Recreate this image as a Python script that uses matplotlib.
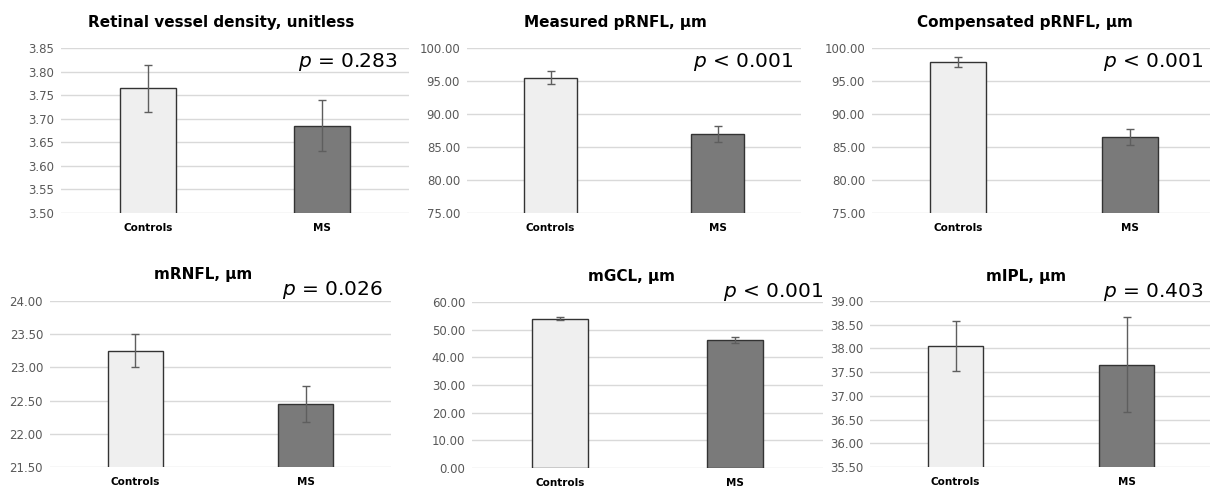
import numpy as np
import matplotlib
matplotlib.use("Agg")
import matplotlib.pyplot as plt

plt.rcParams['font.family'] = ['DejaVu Sans']

# data
groups = ["Controls", "MS"]
titles = ["Retinal vessel density, unitless", "Measured pRNFL, \u00b5m", "Compensated pRNFL, \u00b5m",
          "mRNFL, \u00b5m", "mGCL, \u00b5m", "mIPL, \u00b5m"]
controls_mean = [3.765, 95.5, 97.9, 23.25, 53.9, 38.05]
ms_mean = [3.685, 87.0, 86.5, 22.45, 46.2, 37.66]
controls_err = [0.050, 0.95, 0.75, 0.25, 0.5, 0.52]
ms_err = [0.054, 1.20, 1.20, 0.27, 1.0, 1.00]
y_min = [3.50, 75.0, 75.0, 21.5, 0.0, 35.5]
y_max = [3.85, 100.0, 100.0, 24.0, 60.0, 39.0]
y_step = [0.05, 5.0, 5.0, 0.5, 10.0, 0.5]
p_labels = ["= 0.283", "< 0.001", "< 0.001", "= 0.026", "< 0.001", "= 0.403"]

W, H = 1210, 487
fig = plt.figure(figsize=(W / 100, H / 100), dpi=100)

# axes boxes in pixels: left, right, top, bottom
boxes = [(61, 409, 48, 213), (467, 801, 48, 213), (872, 1216, 48, 213),
         (50, 391, 301, 467), (472, 823, 302, 468), (870, 1212, 301, 467)]
title_pos = [(221, 22), (615, 22), (1025, 22), (203, 275), (631, 276), (1026, 276)]
p_pos = [(397, 62), (793, 62), (1203, 62), (383, 290), (823, 292), (1203, 292)]

for i in range(6):
    l, r, t, b = boxes[i]
    ax = fig.add_axes([l / W, (H - b) / H, (r - l) / W, (b - t) / H])
    x = np.arange(len(groups))
    ax.bar(x, [controls_mean[i], ms_mean[i]], width=0.32, color=["#efefef", "#7a7a7a"],
           edgecolor="#333333", linewidth=1, zorder=2)
    ax.errorbar(x, [controls_mean[i], ms_mean[i]], yerr=[controls_err[i], ms_err[i]], fmt="none",
                ecolor="#5e5e5e", elinewidth=1, capsize=3, capthick=1, zorder=3)
    ax.set_xlim(-0.5, 1.5)
    ax.set_ylim(y_min[i], y_max[i])
    ticks = np.arange(y_min[i], y_max[i] + y_step[i] / 2, y_step[i])
    ax.set_yticks(ticks)
    ax.set_yticklabels(["%.2f" % v for v in ticks], fontsize=8.5, color="#595959")
    ax.set_xticks(x)
    ax.set_xticklabels(groups, fontsize=7.5, fontweight="bold")
    ax.tick_params(axis="y", length=0, pad=5)
    ax.tick_params(axis="x", length=0, pad=7)
    ax.grid(axis="y", color="#d9d9d9", linewidth=1, zorder=0)
    for s in ax.spines.values():
        s.set_visible(False)
    ax.set_facecolor("none")
    tx, ty = title_pos[i]
    fig.text(tx / W, 1 - ty / H, titles[i], fontsize=11, fontweight="bold", ha="center", va="center")
    px, py = p_pos[i]
    fig.text(px / W, 1 - py / H, "$\\it{p}$ " + p_labels[i], fontsize=14.5, ha="right", va="center")

fig.savefig("out.png", dpi=100)
